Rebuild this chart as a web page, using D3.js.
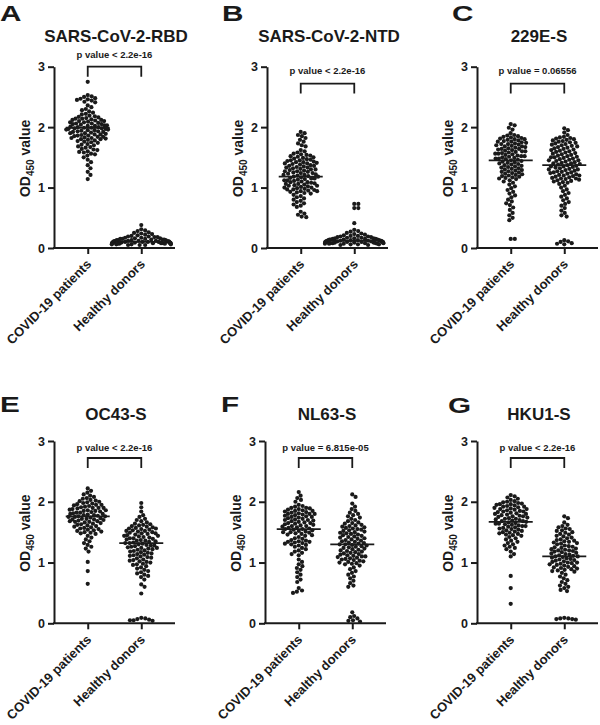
<!DOCTYPE html>
<html><head><meta charset="utf-8">
<script src="https://cdn.jsdelivr.net/npm/d3@7"></script>
<style>body{margin:0;background:#fff}</style>
</head><body><svg id="chart" width="600" height="725"></svg>
<script>
const categories = ["COVID-19 patients", "Healthy donors"];
const panelLetters = ["A", "B", "C", "E", "F", "G"];
const panelTitles = ["SARS-CoV-2-RBD", "SARS-CoV-2-NTD", "229E-S", "OC43-S", "NL63-S", "HKU1-S"];
const pValueLabels = ["p value < 2.2e-16", "p value < 2.2e-16", "p value = 0.06556", "p value < 2.2e-16", "p value = 6.815e-05", "p value < 2.2e-16"];
const yTicks = [0, 1, 2, 3];
const medians = [[1.99, 0.10], [1.18, 0.12], [1.45, 1.37], [1.76, 1.32], [1.55, 1.30], [1.67, 1.10]];
const bracketLevel = [3.0, 2.72, 2.72, 2.72, 2.72, 2.72];

const rbdCovid = [2.75,2.53,2.51,2.50,2.48,2.47,2.46,2.45,2.44,2.42,2.41,2.36,2.33,2.30,2.28,2.26,2.24,2.22,2.21,
2.19,2.18,2.17,2.16,2.15,2.14,2.14,2.13,2.12,2.12,2.11,2.10,2.10,2.09,2.08,2.08,2.07,2.06,2.06,2.05,2.05,2.04,2.03,2.03,2.02,2.02,2.01,2.00,2.00,
1.99,1.99,1.98,1.98,1.97,1.97,1.96,1.96,1.95,1.95,1.94,1.93,1.93,1.92,1.92,1.91,1.90,1.90,1.89,1.88,1.88,1.87,1.86,1.86,1.85,1.84,1.84,1.83,1.82,1.82,1.81,1.80,1.80,1.79,
1.78,1.77,1.76,1.75,1.74,1.72,1.71,1.70,1.68,1.67,1.66,1.64,1.63,1.62,1.60,1.59,1.58,1.56,1.55,1.53,
1.50,1.46,1.42,1.37,1.32,1.26,1.21,1.14];
const rbdHealthy = [0.38,0.31,0.29,0.28,0.26,0.25,0.24,0.23,0.22,0.21,0.20,0.19,0.19,0.18,0.18,0.17,0.17,0.16,0.16,0.15,0.15,0.15,
0.14,0.14,0.14,0.13,0.13,0.13,0.13,0.12,0.12,0.12,0.12,0.11,0.11,0.11,0.11,0.11,0.10,0.10,0.10,0.10,0.10,0.10,
0.09,0.09,0.09,0.09,0.09,0.09,0.08,0.08,0.08,0.08,0.08,0.08,0.07,0.07,0.07,0.07,0.07,0.06,0.06,0.06,0.06,0.05,0.05,0.05];

const ntdCovid = [1.92,1.90,1.87,1.85,1.82,1.79,1.76,1.73,1.70,1.68,
1.62,1.60,1.58,1.56,1.55,1.54,1.53,1.52,1.51,1.50,1.49,1.48,1.47,1.46,1.45,1.45,1.44,1.43,1.42,1.42,1.41,1.40,1.40,1.39,1.38,1.37,1.36,1.36,1.35,1.34,1.33,1.33,1.32,1.31,1.30,1.30,
1.29,1.28,1.27,1.27,1.26,1.25,1.24,1.24,1.23,1.22,1.21,1.21,1.20,1.19,1.18,1.18,1.17,1.16,1.15,1.15,1.14,1.13,1.12,1.12,1.11,1.10,1.09,1.09,1.08,1.07,1.06,1.06,1.05,1.04,1.03,1.03,1.02,1.01,1.00,1.00,0.99,0.98,0.97,0.97,0.96,0.95,0.94,0.94,0.93,0.92,0.91,0.90,
0.88,0.86,0.84,0.82,0.80,0.78,0.76,0.74,0.72,0.70,0.68,
0.60,0.57,0.55,0.52,0.51];
const ntdHealthy = [0.73,0.73,0.66,0.66,0.41,0.30,0.28,0.27,0.25,0.24,0.23,0.22,0.21,0.20,0.20,0.19,0.19,0.18,0.18,0.17,0.17,0.16,0.16,0.16,
0.15,0.15,0.15,0.14,0.14,0.14,0.14,0.13,0.13,0.13,0.13,0.12,0.12,0.12,0.12,0.12,0.11,0.11,0.11,0.11,0.11,0.10,0.10,0.10,0.10,0.10,0.10,
0.09,0.09,0.09,0.09,0.09,0.08,0.08,0.08,0.08,0.08,0.07,0.07,0.07,0.07,0.06,0.06,0.06,0.05,0.05];

const e229Covid = [2.05,2.03,1.99,1.96,
1.90,1.87,1.86,1.85,1.84,1.83,1.82,1.81,1.80,1.80,1.79,1.78,1.77,1.76,1.76,1.75,1.74,1.73,1.72,1.72,1.71,1.70,1.69,1.68,1.68,1.67,1.66,1.65,1.64,1.64,1.63,1.62,1.61,1.60,1.60,1.59,1.58,1.57,1.56,1.56,1.55,1.54,1.53,1.52,1.52,1.51,1.50,1.49,1.48,1.48,1.47,1.46,
1.45,1.44,1.43,1.42,1.41,1.40,1.39,1.38,1.37,1.36,1.35,1.34,1.33,1.32,1.31,1.30,1.29,1.28,1.27,1.26,1.25,1.24,1.23,1.22,1.21,1.20,1.19,1.18,1.17,1.16,1.15,1.14,1.12,1.10,1.08,
1.05,1.02,0.99,0.96,0.93,0.90,0.87,0.84,0.80,0.77,0.74,0.71,0.67,0.63,0.58,0.54,0.50,0.46,
0.15,0.15];
const e229Healthy = [1.98,1.95,1.91,1.87,
1.84,1.83,1.82,1.81,1.80,1.79,1.78,1.77,1.76,1.75,1.74,1.73,1.72,1.71,1.70,1.69,1.68,1.67,1.66,1.65,1.64,1.63,1.62,1.61,1.60,1.59,1.58,1.57,
1.56,1.55,1.54,1.53,1.52,1.51,1.50,1.50,1.49,1.48,1.47,1.46,1.45,1.45,1.44,1.43,1.42,1.41,1.40,1.40,1.39,1.38,1.37,1.36,1.35,1.35,1.34,
1.33,1.32,1.31,1.30,1.30,1.29,1.28,1.27,1.26,1.25,1.25,1.24,1.23,1.22,1.21,1.20,1.20,1.19,1.18,1.17,1.16,1.15,1.15,1.14,1.13,1.12,1.11,1.10,1.09,1.08,
1.06,1.03,1.00,0.97,0.94,0.91,0.88,0.85,0.82,0.79,0.76,0.73,0.70,0.66,0.62,0.58,0.54,0.52,
0.13,0.11,0.10,0.08,0.07,0.06];

const oc43Covid = [2.22,2.18,2.15,2.12,2.10,2.08,2.06,
2.05,2.03,2.02,2.01,2.00,1.99,1.98,1.97,1.96,1.95,1.94,1.93,1.92,1.91,1.90,1.90,1.89,1.88,1.87,1.86,1.86,1.85,1.84,1.83,1.82,1.82,1.81,1.80,1.79,1.78,1.78,1.77,1.76,1.75,1.75,1.74,1.73,1.72,1.71,1.71,1.70,1.69,1.68,1.67,1.67,1.66,1.65,1.64,1.63,1.62,
1.95,1.90,1.85,1.80,1.76,1.72,1.68,
1.61,1.60,1.59,1.58,1.57,1.56,1.55,1.54,1.53,1.52,1.51,1.50,1.49,1.48,1.47,
1.44,1.41,1.38,1.35,1.32,1.29,1.26,1.23,
1.18,1.01,0.86,0.65];
const oc43Healthy = [1.98,1.91,1.84,1.78,1.75,1.72,1.70,1.68,1.66,1.64,1.63,
1.62,1.61,1.60,1.59,1.58,1.57,1.56,1.56,1.55,1.54,1.53,1.52,1.52,1.51,1.50,1.49,1.48,1.48,1.47,1.46,1.45,1.44,1.44,1.43,1.42,1.41,1.40,1.40,1.39,1.38,1.37,1.36,1.36,1.35,1.34,1.33,1.32,1.32,1.31,1.30,1.29,1.28,1.28,1.27,1.26,1.25,1.24,1.24,1.23,1.22,1.21,1.20,1.19,1.18,1.17,1.16,1.15,1.14,1.13,1.12,1.11,1.10,1.09,1.08,1.07,1.05,1.04,1.03,1.02,1.01,1.00,0.98,0.97,0.96,
0.94,0.92,0.90,0.88,0.86,0.84,0.82,0.80,0.78,0.76,
0.72,0.64,0.60,0.49,
0.09,0.08,0.07,0.06,0.05,0.05,0.04];

const nl63Covid = [2.16,2.10,2.06,2.03,2.00,
1.95,1.93,1.92,1.90,1.89,1.88,1.87,1.86,1.85,1.84,1.83,1.82,1.81,1.80,1.80,1.79,1.78,1.77,1.76,1.75,1.74,1.73,1.72,1.71,1.70,1.69,1.68,1.67,1.66,1.65,1.64,1.63,1.62,1.61,1.60,1.59,1.58,1.57,1.56,1.55,1.54,1.53,1.52,1.51,1.50,1.49,1.48,1.47,1.46,1.45,
1.90,1.85,1.80,1.75,1.70,1.65,1.60,1.55,1.50,
1.44,1.42,1.40,1.39,1.37,1.36,1.35,1.34,1.34,1.33,1.32,1.31,1.30,1.29,1.28,1.26,1.24,1.22,1.20,1.18,1.16,1.14,1.12,
1.05,1.01,0.97,0.94,0.91,0.88,0.84,0.80,0.76,0.72,0.68,
0.58,0.54,0.52,0.50];
const nl63Healthy = [2.12,2.08,1.97,1.92,1.88,1.85,1.82,1.80,1.78,1.76,1.74,1.72,1.70,1.68,
1.66,1.65,1.64,1.62,1.61,1.60,1.59,1.58,1.57,1.56,1.55,1.54,1.53,1.52,1.51,1.50,1.49,1.48,1.47,1.46,1.45,1.44,1.43,1.42,1.41,1.40,1.39,1.38,1.37,1.36,1.35,1.34,1.33,1.32,1.31,1.30,1.30,1.29,1.28,1.27,1.26,1.25,1.24,1.23,1.22,1.21,1.20,1.19,1.18,1.17,1.16,1.15,1.14,1.13,1.12,1.11,1.10,1.10,1.09,1.08,1.07,1.06,1.05,1.04,1.03,1.02,1.01,1.00,0.99,0.98,0.97,
0.95,0.92,0.89,0.86,0.83,0.80,0.77,0.74,0.70,0.66,0.62,0.60,
0.18,0.12,0.10,0.08,0.05,0.04,0.03];

const hku1Covid = [2.11,2.09,2.07,2.05,2.03,2.01,
2.00,1.99,1.98,1.97,1.96,1.96,1.95,1.94,1.93,1.92,1.92,1.91,1.90,1.89,1.88,1.88,1.87,1.86,1.85,1.84,1.84,1.83,1.82,1.81,1.80,1.80,1.79,1.78,1.77,1.76,1.76,1.75,1.74,1.73,1.72,1.72,1.71,1.70,1.69,1.68,1.68,1.67,1.66,1.65,1.64,1.64,1.63,1.62,1.61,1.60,1.60,1.59,1.58,1.57,1.56,1.55,1.54,1.53,1.52,1.51,1.50,1.49,1.48,1.47,1.46,1.45,
1.44,1.42,1.40,1.38,1.36,1.34,1.32,1.30,1.28,1.26,1.24,1.22,
1.18,1.14,1.10,
0.78,0.58,0.32];
const hku1Healthy = [1.76,1.73,1.66,
1.62,1.60,1.58,1.56,1.55,1.53,1.52,1.50,1.49,1.47,1.46,1.44,1.43,1.41,1.40,1.38,1.37,1.36,1.35,1.34,1.33,1.32,1.31,1.30,
1.28,1.27,1.26,1.25,1.24,1.23,1.22,1.21,1.20,1.20,1.19,1.18,1.17,1.16,1.15,1.14,1.13,1.12,1.11,1.10,1.10,1.09,1.08,1.07,1.06,1.05,1.04,1.03,1.02,1.01,1.00,1.00,0.99,0.98,0.97,0.96,0.95,0.94,0.93,0.92,0.91,0.90,0.89,0.88,0.87,0.86,0.85,
0.83,0.80,0.77,0.74,0.71,0.68,0.65,0.62,0.60,0.58,0.55,0.53,
0.09,0.08,0.08,0.07,0.07,0.06];

const panelData = [
  [rbdCovid, rbdHealthy], [ntdCovid, ntdHealthy], [e229Covid, e229Healthy],
  [oc43Covid, oc43Healthy], [nl63Covid, nl63Healthy], [hku1Covid, hku1Healthy]
];

// ---- layout (pixels) ----
const layout = [
  {x0: 54, yBase: 248, yTop: 66.7, letterX: 0, letterY: 21, titleY: 42, pY: 58},
  {x0: 267, yBase: 248, yTop: 66.7, letterX: 222, letterY: 21, titleY: 42, pY: 74},
  {x0: 477, yBase: 248, yTop: 66.7, letterX: 452, letterY: 21, titleY: 42, pY: 74},
  {x0: 54, yBase: 623.3, yTop: 441, letterX: 0, letterY: 412, titleY: 420, pY: 451},
  {x0: 265, yBase: 623.3, yTop: 441, letterX: 221, letterY: 412, titleY: 420, pY: 451},
  {x0: 477, yBase: 623.3, yTop: 441, letterX: 448, letterY: 413, titleY: 420, pY: 451}
];
const FONT = "'Liberation Sans', Arial, Helvetica, sans-serif";
const INK = "#1a1a1a";
const R = 2.1, D = 4.1, MAXHALF = 30;

function swarm(vals, y, cx) {
  const pts = vals.map(v => ({v, y: y(v), x: 0})).sort((a, b) => b.v - a.v);
  const placed = [];
  for (const p of pts) {
    const near = placed.filter(q => Math.abs(q.y - p.y) < D);
    const cands = [0];
    near.forEach(q => { const dx = Math.sqrt(D * D - (q.y - p.y) ** 2); cands.push(q.x + dx, q.x - dx); });
    cands.sort((a, b) => Math.abs(a) - Math.abs(b));
    for (const c of cands) {
      if (near.every(q => (q.x - c) ** 2 + (q.y - p.y) ** 2 >= D * D - 1e-6)) { p.x = c; break; }
    }
    placed.push(p);
  }
  placed.forEach(p => { p.px = cx + Math.sign(p.x) * MAXHALF * Math.tanh(Math.abs(p.x) / MAXHALF); });
  return placed;
}

const svg = d3.select("#chart");

panelData.forEach((groups, i) => {
  const L = layout[i];
  const g = svg.append("g");
  const x = d3.scalePoint().domain(categories).range([L.x0, L.x0 + 121]).padding(0.63);
  const y = d3.scaleLinear().domain([0, 3]).range([L.yBase, L.yTop]);

  // y axis
  const gy = g.append("g").attr("transform", `translate(${L.x0},0)`)
    .call(d3.axisLeft(y).tickValues(yTicks).tickFormat(d3.format("d")).tickSize(6).tickSizeOuter(0).tickPadding(3));
  gy.select(".domain").attr("stroke", INK).attr("stroke-width", 2);
  gy.selectAll(".tick line").attr("stroke", INK).attr("stroke-width", 2);
  gy.selectAll(".tick text").attr("font-family", FONT).attr("font-weight", "bold").attr("font-size", 12.5).attr("fill", INK);

  // x axis
  const gx = g.append("g").attr("transform", `translate(0,${L.yBase})`)
    .call(d3.axisBottom(x).tickSize(6).tickSizeOuter(0));
  gx.select(".domain").attr("stroke", INK).attr("stroke-width", 2)
    .attr("d", `M${L.x0 - 1},0H${L.x0 + 121}`);
  gx.selectAll(".tick line").attr("stroke", INK).attr("stroke-width", 2);
  gx.selectAll(".tick text")
    .attr("font-family", FONT).attr("font-weight", "bold").attr("font-size", 13).attr("fill", INK)
    .attr("x", 0).attr("y", 0).attr("dy", 0)
    .attr("text-anchor", "end")
    .attr("transform", "translate(4,17) rotate(-45)");

  // y label
  const yl = g.append("text")
    .attr("transform", `translate(${L.x0 - 24},${(L.yBase + L.yTop) / 2 + 1}) rotate(-90)`)
    .attr("text-anchor", "middle").attr("font-family", FONT).attr("font-weight", "bold")
    .attr("font-size", 14).attr("fill", INK);
  yl.append("tspan").text("OD");
  yl.append("tspan").attr("font-size", 10).attr("dy", 4).text("450");
  yl.append("tspan").attr("dy", -4).text(" value");

  // title
  g.append("text").attr("x", L.x0 + 62).attr("y", L.titleY).attr("text-anchor", "middle")
    .attr("font-family", FONT).attr("font-weight", "bold").attr("font-size", 17).attr("fill", INK)
    .text(panelTitles[i]);

  // panel letter
  g.append("text").attr("transform", `translate(${L.letterX},${L.letterY}) scale(1.35,1)`)
    .attr("font-family", FONT).attr("font-weight", "bold").attr("font-size", 22).attr("fill", INK)
    .text(panelLetters[i]);

  // bracket + p value
  const by = y(bracketLevel[i]);
  const x1 = x(categories[0]), x2 = x(categories[1]);
  g.append("path").attr("d", `M${x1},${by + 10}V${by}H${x2}V${by + 10}`)
    .attr("fill", "none").attr("stroke", INK).attr("stroke-width", 1.8);
  g.append("text").attr("x", (x1 + x2) / 2).attr("y", L.pY).attr("text-anchor", "middle")
    .attr("font-family", FONT).attr("font-weight", "bold").attr("font-size", 9.5).attr("fill", INK)
    .text(pValueLabels[i]);

  // dots
  groups.forEach((vals, k) => {
    const pts = swarm(vals, y, x(categories[k]));
    g.append("g").selectAll("circle").data(pts).join("circle")
      .attr("cx", d => d.px).attr("cy", d => d.y).attr("r", R).attr("fill", INK);
    // median line
    g.append("line")
      .attr("x1", x(categories[k]) - 22).attr("x2", x(categories[k]) + 22)
      .attr("y1", y(medians[i][k])).attr("y2", y(medians[i][k]))
      .attr("stroke", INK).attr("stroke-width", 1.8);
  });
});
</script>
</body></html>
